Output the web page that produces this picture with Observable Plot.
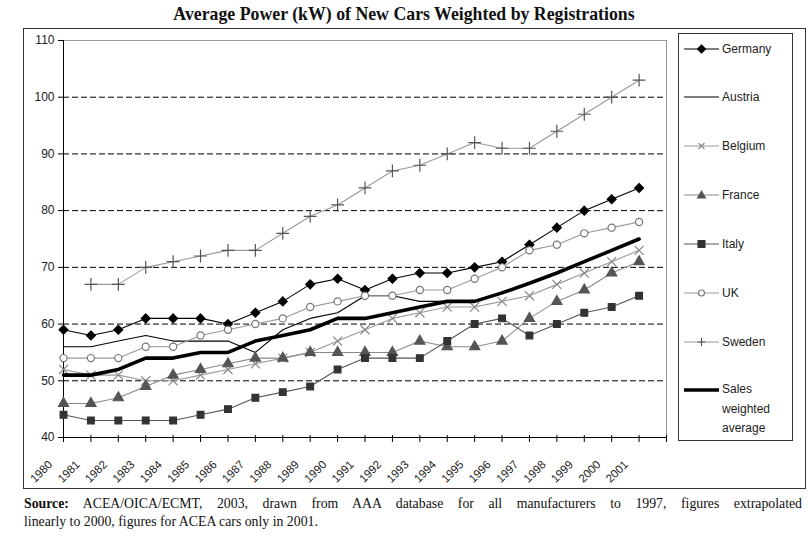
<!DOCTYPE html>
<html>
<head>
<meta charset="utf-8">
<script src="https://cdn.jsdelivr.net/npm/d3@7"></script>
<script src="https://cdn.jsdelivr.net/npm/@observablehq/plot@0.6"></script>
<style>
  body { margin: 0; background: #fff; }
  #wrap { position: relative; width: 808px; height: 544px; overflow: hidden; background: #fff; }
  #title { position: absolute; left: 0; top: 4px; width: 808px; text-align: center;
           font: bold 17.8px "Liberation Serif", "Times New Roman", serif; color: #111; white-space: nowrap; }
  #chart { position: absolute; left: 0; top: 0; }
  #box { position: absolute; left: 23px; top: 28px; width: 783px; height: 461px;
         border: 1px solid #333; box-sizing: border-box; pointer-events: none; }
  #legend { position: absolute; left: 678px; top: 33px; width: 115px; height: 408px;
            border: 1px solid #333; box-sizing: border-box; background: #fff;
            font: 12px "Liberation Sans", Arial, sans-serif; color: #222; }
  .item { position: absolute; left: 0; width: 113px; }
  .item svg { position: absolute; left: 5px; top: 0; }
  .item span { position: absolute; left: 43px; top: 0; line-height: 14px; white-space: nowrap; }
  .cap { position: absolute; left: 24px; width: 778px; font: 13.8px "Liberation Serif", "Times New Roman", serif;
         color: #111; line-height: 18px; white-space: nowrap; }
  #cap1 { top: 495px; text-align: justify; text-align-last: justify; white-space: normal; }
  #cap2 { top: 513px; }
</style>
</head>
<body>
<div id="wrap">
  <div id="title">Average Power (kW) of New Cars Weighted by Registrations</div>
  <div id="chart"></div>
  <div id="box"></div>
  <div id="legend"></div>
  <div class="cap" id="cap1"><b>Source:</b> ACEA/OICA/ECMT, 2003, drawn from AAA database for all manufacturers to 1997, figures extrapolated</div>
  <div class="cap" id="cap2">linearly to 2000, figures for ACEA cars only in 2001.</div>
</div>
<script>
// ---- data ----
const years = [1980,1981,1982,1983,1984,1985,1986,1987,1988,1989,1990,1991,1992,1993,1994,1995,1996,1997,1998,1999,2000,2001];
const tickYears = [1980,1981,1982,1983,1984,1985,1986,1987,1988,1989,1990,1991,1992,1993,1994,1995,1996,1997,1998,1999,2000,2001,2002];
const yTicks = [40,50,60,70,80,90,100,110];
const gridTicks = [50,60,70,80,90,100];

const germany = [59,58,59,61,61,61,60,62,64,67,68,66,68,69,69,70,71,74,77,80,82,84];
const austria = [56,56,57,58,57,57,57,55,59,61,62,65,65,64,64,64,null,null,null,null,null,null];
const belgium = [52,51,51,50,50,51,52,53,54,55,57,59,61,62,63,63,64,65,67,69,71,73];
const france  = [46,46,47,49,51,52,53,54,54,55,55,55,55,57,56,56,57,61,64,66,69,71];
const italy   = [44,43,43,43,43,44,45,47,48,49,52,54,54,54,57,60,61,58,60,62,63,65];
const uk      = [54,54,54,56,56,58,59,60,61,63,64,65,65,66,66,68,70,73,74,76,77,78];
const sweden  = [null,67,67,70,71,72,73,73,76,79,81,84,87,88,90,92,91,91,94,97,100,103];
const average = [51,51,52,54,54,55,55,57,58,59,61,61,62,63,64,64,65.5,67.2,69,71,73,75];

const seriesNames = ["Germany","Austria","Belgium","France","Italy","UK","Sweden","Sales weighted average"];
const seriesValues = [germany, austria, belgium, france, italy, uk, sweden, average];

// styles (not data)
const styles = {
  "Germany": {stroke: "#000", width: 1.1, symbol: "diamond2", fill: "#000", mstroke: "#000", r: 4},
  "Austria": {stroke: "#000", width: 1.1, symbol: null},
  "Belgium": {stroke: "#9a9a9a", width: 1.1, symbol: "times", fill: "none", mstroke: "#888", r: 4.2},
  "France":  {stroke: "#8a8a8a", width: 1.1, symbol: "triangle", fill: "#555", mstroke: "#555", r: 3.8},
  "Italy":   {stroke: "#555", width: 1.1, symbol: "square", fill: "#333", mstroke: "#333", r: 3.8},
  "UK":      {stroke: "#999", width: 1.1, symbol: "circle", fill: "#fff", mstroke: "#777", r: 3.6},
  "Sweden":  {stroke: "#999", width: 1.1, symbol: "plus", fill: "none", mstroke: "#555", r: 4.2},
  "Sales weighted average": {stroke: "#000", width: 3.6, symbol: null}
};

const rows = [];
seriesNames.forEach((name, i) => {
  seriesValues[i].forEach((v, j) => {
    if (v != null) rows.push({series: name, year: years[j], value: v});
  });
});

const marks = [
  Plot.frame({stroke: "#999"}),
  Plot.gridY(gridTicks, {stroke: "#000", strokeOpacity: 1, strokeDasharray: "6,3", strokeWidth: 1}),
  Plot.ruleX([1980], {stroke: "#000"}),
  Plot.ruleY([40], {stroke: "#000"}),
  Plot.axisY(yTicks, {tickSize: 5, tickPadding: 4, fontSize: 12, fill: "#222", stroke: "#000", label: null}),
  Plot.axisX(tickYears, {tickSize: 5, tickFormat: () => "", stroke: "#000", label: null}),
  Plot.axisX(tickYears, {tickSize: -2, tickFormat: () => "", stroke: "#000", label: null}),
  Plot.text(years, {x: d => d, text: d => String(d), frameAnchor: "bottom", rotate: -45,
                    textAnchor: "end", lineAnchor: "middle", dx: -13, dy: 25, fontSize: 11.5, fill: "#222"})
];

seriesNames.forEach(name => {
  const st = styles[name];
  const data = rows.filter(d => d.series === name);
  marks.push(Plot.line(data, {x: "year", y: "value", stroke: st.stroke, strokeWidth: st.width, curve: "linear"}));
  if (st.symbol) {
    marks.push(Plot.dot(data, {x: "year", y: "value", symbol: st.symbol, r: st.r,
                               fill: st.fill, stroke: st.mstroke, strokeWidth: 1.2}));
  }
});

const chart = Plot.plot({
  width: 808,
  height: 490,
  marginLeft: 63,
  marginRight: 142,
  marginTop: 40,
  marginBottom: 53,
  x: {type: "linear", domain: [1980, 2002], axis: null, label: null},
  y: {domain: [40, 110], axis: null, label: null},
  style: {background: "transparent", fontFamily: "'Liberation Sans', Arial, sans-serif", fontSize: "12px", color: "#222", overflow: "visible"},
  marks
});
document.getElementById("chart").appendChild(chart);

// ---- legend ----
const legend = document.getElementById("legend");
const legendTops = [8, 56, 105, 154, 203, 252, 301, 349];
const symPaths = {
  "diamond2": "M0,-4L4,0L0,4L-4,0Z",
  "times": "M-3,-3L3,3M-3,3L3,-3",
  "triangle": "M0,-4L4,3L-4,3Z",
  "square": "M-3.5,-3.5h7v7h-7Z",
  "circle": "M3,0A3,3 0 1,1 -3,0A3,3 0 1,1 3,0Z",
  "plus": "M-4,0H4M0,-4V4"
};
seriesNames.forEach((name, i) => {
  const st = styles[name];
  const div = document.createElement("div");
  div.className = "item";
  div.style.top = legendTops[i] + "px";
  let svg = `<svg width="36" height="14" viewBox="0 0 36 14"><line x1="0" y1="7" x2="35" y2="7" stroke="${st.stroke}" stroke-width="${st.width}"/>`;
  if (st.symbol) {
    svg += `<path transform="translate(17.5,7)" d="${symPaths[st.symbol]}" fill="${st.fill}" stroke="${st.mstroke}" stroke-width="1.1"/>`;
  }
  svg += `</svg>`;
  const label = name === "Sales weighted average" ? "Sales<br>weighted<br>average" : name;
  div.innerHTML = svg + `<span style="line-height:${i === 7 ? 19.5 : 14}px;top:${i === 7 ? -3 : 0}px">${label}</span>`;
  legend.appendChild(div);
});
</script>
</body>
</html>
